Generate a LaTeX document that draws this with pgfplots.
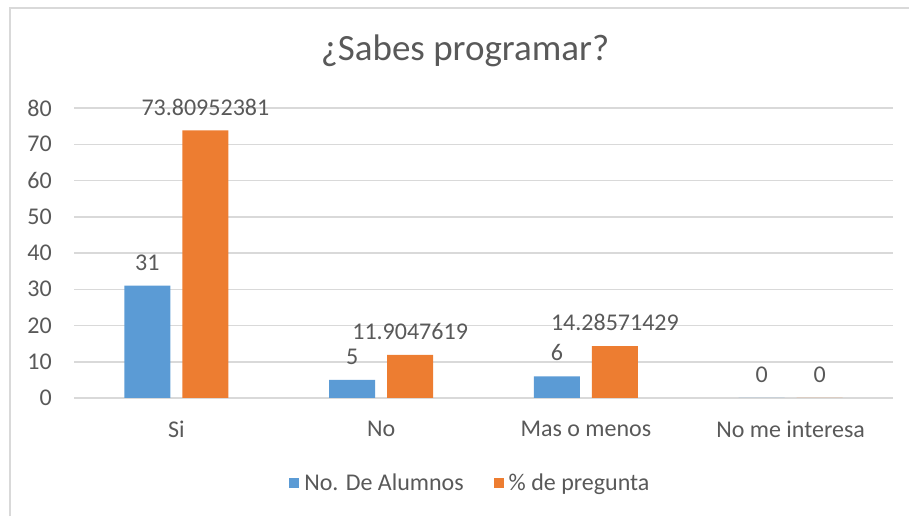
\documentclass[border=0pt]{standalone}
\usepackage{fontspec}
\setmainfont{Carlito}
\usepackage{pgfplots}
\pgfplotsset{compat=1.18}
\definecolor{xlblue}{HTML}{5B9BD5}
\definecolor{xlorange}{HTML}{ED7D31}
\definecolor{xltext}{HTML}{595959}
\definecolor{xlgrid}{HTML}{D9D9D9}
\newcommand{\lbl}{\fontsize{24}{28}\selectfont}
\begin{document}
\begin{tikzpicture}[x=1pt,y=1pt]
\useasboundingbox (0,0) rectangle (909,516);
% chart frame (right and bottom edges fall outside the picture)
\draw[xlgrid, line width=1.5pt] (10,0) -- (10,508) -- (909,508);
\node[text=xltext, font=\fontsize{37}{42}\selectfont] at (465,465) {¿Sabes programar?};
\begin{axis}[
  at={(74pt,118pt)}, anchor=south west,
  scale only axis,
  width=819pt, height=290pt,
  ybar=12pt,
  bar width=46pt,
  xmin=-0.5, xmax=3.5,
  ymin=0, ymax=80,
  ytick={0,10,...,80},
  xtick={0,1,2,3},
  xticklabels={Si, No, Mas o menos, No me interesa},
  axis line style={draw=none},
  major tick length=0pt,
  ymajorgrids=true,
  grid style={xlgrid, line width=1.5pt},
  tick label style={font=\lbl, text=xltext, inner sep=0pt},
  x tick label style={yshift=-23pt},
  y tick label style={xshift=-22pt},
  /pgf/number format/assume math mode=true,
  nodes near coords,
  point meta=explicit symbolic,
  nodes near coords style={font=\lbl, text=xltext, anchor=south, inner sep=3pt, yshift=12pt},
  legend style={at={(0.484,-0.293)}, anchor=center, draw=none, font=\lbl,
    text=xltext, legend columns=2,
    /tikz/every odd column/.append style={column sep=3pt},
    /tikz/every even column/.append style={column sep=28pt}},
  legend image code/.code={\fill (0pt,-5pt) rectangle (10pt,5pt);},
  clip=false,
]
\addplot[fill=xlblue, draw=none] coordinates {
  (0,31) [31]
  (1,5) [5]
  (2,6) [6]
  (3,0) [0]
};
\addlegendentry{No. De Alumnos}
\addplot[fill=xlorange, draw=none] coordinates {
  (0,73.80952381) [73.80952381]
  (1,11.9047619) [11.9047619]
  (2,14.28571429) [14.28571429]
  (3,0) [0]
};
\addlegendentry{\% de pregunta}
\end{axis}
\end{tikzpicture}
\end{document}
